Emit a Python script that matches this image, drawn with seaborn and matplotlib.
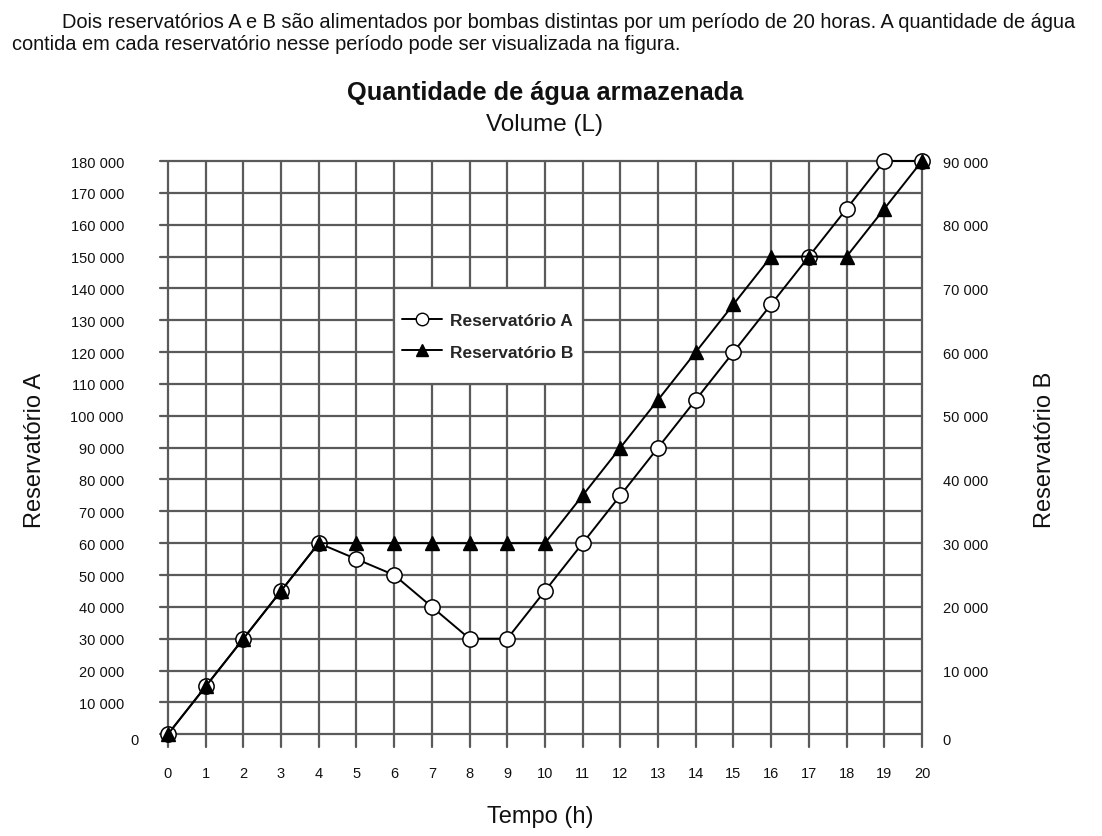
import numpy as np
import pandas as pd
import matplotlib
matplotlib.use("Agg")
import matplotlib.pyplot as plt
import matplotlib.transforms as mtransforms
from matplotlib.lines import Line2D
from matplotlib.patches import Rectangle
from matplotlib.ticker import FuncFormatter
import seaborn as sns

# Data
hours = list(range(21))
res_a = [0, 15000, 30000, 45000, 60000, 55000, 50000, 40000, 30000, 30000, 45000,
         60000, 75000, 90000, 105000, 120000, 135000, 150000, 165000, 180000, 180000]
res_b = [0, 7500, 15000, 22500, 30000, 30000, 30000, 30000, 30000, 30000, 30000,
         37500, 45000, 52500, 60000, 67500, 75000, 75000, 75000, 82500, 90000]
left_ticks = list(range(0, 180001, 10000))
right_ticks = list(range(0, 90001, 10000))

df = pd.DataFrame({"hora": hours, "A": res_a, "B": res_b})

sns.set_theme(style="white")
plt.rcParams["font.family"] = ["Liberation Sans", "DejaVu Sans"]

W, H = 1102, 837
fig = plt.figure(figsize=(W / 100, H / 100), dpi=100)
ax = fig.add_axes([160 / W, 1 - 748 / H, (922 - 160) / W, (748 - 162) / H])
ax2 = ax.twinx()

grid_col = "#5a5a5a"
fmt = FuncFormatter(lambda v, p: f"{v:,.0f}".replace(",", " "))

# left axis / grid
ax.set_xlim(-0.21, 20)
ax.set_ylim(-4000, 180000)
ax.set_xticks(hours)
ax.set_yticks(left_ticks)
ax.yaxis.set_major_formatter(fmt)
ax.set_axisbelow(True)
ax.grid(True, color=grid_col, linewidth=1.6, clip_on=False)
ax.tick_params(axis="both", length=0, labelsize=10.5, colors="#111111")
ax.tick_params(axis="y", pad=26)
ax.tick_params(axis="x", pad=14)
for s in ax.spines.values():
    s.set_visible(False)

# right axis
ax2.set_ylim(-2000, 90000)
ax2.set_yticks(right_ticks)
ax2.yaxis.set_major_formatter(fmt)
ax2.grid(False)
ax2.tick_params(axis="y", length=0, labelsize=10.5, pad=15, colors="#111111")
for s in ax2.spines.values():
    s.set_visible(False)

sns.lineplot(data=df, x="hora", y="A", ax=ax, color="black", linewidth=1.4,
             marker="o", markersize=11, markerfacecolor="white",
             markeredgecolor="black", markeredgewidth=1.1, clip_on=False, zorder=3)
sns.lineplot(data=df, x="hora", y="B", ax=ax2, color="black", linewidth=1.4,
             marker="^", markersize=10, markerfacecolor="black",
             markeredgecolor="black", markeredgewidth=1.0, clip_on=False, zorder=3)
ax.set_xlabel("")
ax.set_ylabel("")
ax2.set_ylabel("")

# the "0" labels sit a little lower (and the left one further right)
off_left = mtransforms.ScaledTranslation(15 / 100, -4 / 100, fig.dpi_scale_trans)
off_right = mtransforms.ScaledTranslation(0, -4 / 100, fig.dpi_scale_trans)
t0 = ax.yaxis.get_major_ticks()[0].label1
t0.set_transform(t0.get_transform() + off_left)
r0 = ax2.yaxis.get_major_ticks()[0].label2
r0.set_transform(r0.get_transform() + off_right)

# legend box (white cell covering the grid)
ax.add_patch(Rectangle((6, 110000), 5, 30000, facecolor="white",
                       edgecolor=grid_col, linewidth=1.6, zorder=1))
handles = [
    Line2D([], [], color="black", lw=1.4, marker="o", markersize=9,
           markerfacecolor="white", markeredgecolor="black"),
    Line2D([], [], color="black", lw=1.4, marker="^", markersize=9,
           markerfacecolor="black", markeredgecolor="black"),
]
leg = ax.legend(handles, ["Reservatório A", "Reservatório B"], loc="center left",
                bbox_to_anchor=(6.2, 125000), bbox_transform=ax.transData,
                frameon=False, prop={"weight": "bold", "size": 12.5},
                handlelength=2.3, handletextpad=0.5, labelspacing=0.95,
                borderpad=0, borderaxespad=0)
leg.set_zorder(5)

# texts
def ftext(x, y, s, **kw):
    fig.text(x / W, 1 - y / H, s, **kw)

ftext(62, 22, "Dois reservatórios A e B são alimentados por bombas distintas por um período de 20 horas. A quantidade de água",
      fontsize=14.4, va="center", ha="left", color="#111111")
ftext(12, 45, "contida em cada reservatório nesse período pode ser visualizada na figura.",
      fontsize=14.4, va="center", ha="left", color="#111111")
ftext(545, 93, "Quantidade de água armazenada", fontsize=18.3, fontweight="bold",
      ha="center", va="center", color="#111111")
ftext(545, 125, "Volume (L)", fontsize=17.5, ha="center", va="center", color="#111111")
ftext(540, 817, "Tempo (h)", fontsize=17, ha="center", va="center", color="#111111")
ftext(35, 450, "Reservatório A", fontsize=17, rotation=90, ha="center", va="center", color="#111111")
ftext(1045, 450, "Reservatório B", fontsize=17, rotation=90, ha="center", va="center", color="#111111")

fig.savefig("out.png", dpi=100, facecolor="white")
